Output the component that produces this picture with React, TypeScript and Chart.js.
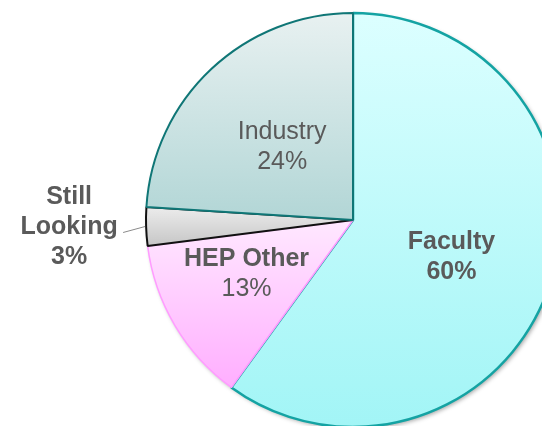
import React, { useEffect, useRef } from "react";
import { Chart, registerables } from "chart.js";

Chart.register(...registerables);

const categories = ["Faculty", "HEP Other", "Still Looking", "Industry"];
const shares = [60, 13, 3, 24];
const labelLines = [
  ["Faculty", "60%"],
  ["HEP Other", "13%"],
  ["Still", "Looking", "3%"],
  ["Industry", "24%"],
];
const labelBold = [
  [true, true],
  [true, false],
  [true, true, true],
  [false, false],
];
const gradTop = ["#dcffff", "#ffe8ff", "#ececec", "#e8f1f1"];
const gradBottom = ["#a2f5f6", "#ffaeff", "#c6c6c6", "#b2d6d6"];
const borderColors = ["#14a3a3", "#ff9cff", "#111111", "#0f7676"];
const borderWidths = [2.5, 1.5, 2, 2];

const W = 600;
const H = 440;
const labelRadius = [0.505, 0.572, 1, 0.5];
const labelAngleShift = [1.6, 4.6, 0, 0];

export default function App() {
  const ref = useRef<HTMLCanvasElement | null>(null);

  useEffect(() => {
    if (!ref.current) return;

    const gradientPlugin = {
      id: "grads",
      beforeDatasetsDraw(chart: any) {
        const ctx = chart.ctx;
        const meta = chart.getDatasetMeta(0);
        const a0 = meta.data[0];
        if (a0) {
          ctx.save();
          ctx.shadowColor = "rgba(0,0,0,0.35)";
          ctx.shadowBlur = 4;
          ctx.shadowOffsetX = 2;
          ctx.shadowOffsetY = 2;
          ctx.beginPath();
          ctx.arc(a0.x, a0.y, a0.outerRadius, 0, Math.PI * 2);
          ctx.fillStyle = "#ffffff";
          ctx.fill();
          ctx.restore();
        }
        meta.data.forEach((arc: any, i: number) => {
          const { x, y, outerRadius, startAngle, endAngle } = arc;
          let minY = y;
          let maxY = y;
          const steps = 60;
          for (let s = 0; s <= steps; s++) {
            const a = startAngle + ((endAngle - startAngle) * s) / steps;
            const py = y + Math.sin(a) * outerRadius;
            minY = Math.min(minY, py);
            maxY = Math.max(maxY, py);
          }
          const g = ctx.createLinearGradient(0, minY, 0, maxY);
          g.addColorStop(0, gradTop[i]);
          g.addColorStop(1, gradBottom[i]);
          arc.options.backgroundColor = g;
        });
      },
    };

    const labelPlugin = {
      id: "labels",
      afterDatasetsDraw(chart: any) {
        const ctx = chart.ctx;
        const meta = chart.getDatasetMeta(0);
        const lh = 30;
        ctx.save();
        ctx.fillStyle = "#5a5a5a";
        ctx.textAlign = "center";
        ctx.textBaseline = "alphabetic";
        meta.data.forEach((arc: any, i: number) => {
          const { x, y, outerRadius, startAngle, endAngle } = arc;
          const mid = (startAngle + endAngle) / 2 + (labelAngleShift[i] * Math.PI) / 180;
          const lines = labelLines[i];
          let cx: number;
          let cy: number;
          if (shares[i] < 5) {
            const ex = x + Math.cos(mid) * outerRadius;
            const ey = y + Math.sin(mid) * outerRadius;
            cx = ex - 77;
            cy = ey - 2;
            ctx.save();
            ctx.strokeStyle = "#8a8a8a";
            ctx.lineWidth = 1;
            ctx.beginPath();
            ctx.moveTo(ex - 1, ey);
            ctx.lineTo(ex - 23, ey + 6);
            ctx.stroke();
            ctx.restore();
          } else {
            const rf = labelRadius[i];
            cx = x + Math.cos(mid) * outerRadius * rf;
            cy = y + Math.sin(mid) * outerRadius * rf;
          }
          const n = lines.length;
          lines.forEach((t, k) => {
            ctx.font = `${labelBold[i][k] ? "bold " : ""}25px "Liberation Sans", Arial, sans-serif`;
            const by = cy - ((n - 1) * lh) / 2 + k * lh + 9;
            ctx.fillText(t, cx, by);
          });
        });
        ctx.restore();
      },
    };

    const chart = new Chart(ref.current, {
      type: "pie",
      data: {
        labels: categories,
        datasets: [
          {
            data: shares,
            backgroundColor: gradTop,
            borderColor: borderColors,
            borderWidth: borderWidths,
            borderAlign: "center",
            radius: 207,
          } as any,
        ],
      },
      options: {
        responsive: false,
        animation: false,
        events: [],
        layout: { padding: { left: 146, right: W - 560, top: 13, bottom: H - 427 } },
        plugins: {
          legend: { display: false },
          tooltip: { enabled: false },
        },
      } as any,
      plugins: [gradientPlugin, labelPlugin],
    });
    return () => chart.destroy();
  }, []);

  return (
    <div
      style={{
        position: "fixed",
        left: 0,
        top: 0,
        width: 542,
        height: 426,
        overflow: "hidden",
        background: "#ffffff",
      }}
    >
      <canvas ref={ref} width={W} height={H} style={{ width: W, height: H, display: "block" }} />
    </div>
  );
}
